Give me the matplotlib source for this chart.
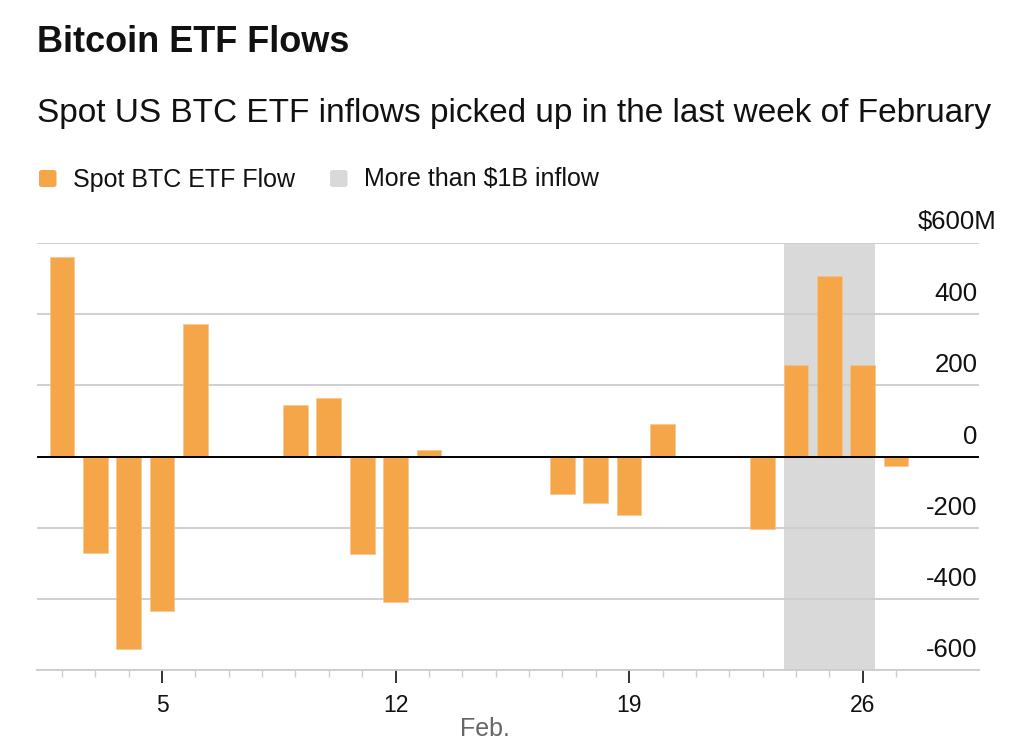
import matplotlib
matplotlib.use("Agg")
import matplotlib.pyplot as plt
from matplotlib.patches import FancyBboxPatch

plt.rcParams['font.family'] = ['Liberation Sans', 'DejaVu Sans']

# daily spot BTC ETF net flows, $M (Feb)
days = [2, 3, 4, 5, 6, 9, 10, 11, 12, 13, 17, 18, 19, 20, 23, 24, 25, 26, 27]
flows = [561, -270, -542, -433, 372, 146, 165, -275, -410, 17,
         -104, -132, -164, 90, -203, 258, 507, 256, -27]
highlight_days = [24, 25, 26]
yticks = [-600, -400, -200, 0, 200, 400, 600]
xticks = [5, 12, 19, 26]
legend_labels = ['Spot BTC ETF Flow', 'More than $1B inflow']

orange = '#F4A649'
shade = '#D9D9D9'
text_c = '#111111'
bar_w = 0.74
W, H = 1024, 751

fig = plt.figure(figsize=(10.24, 7.51), dpi=100)
ax = fig.add_axes([37 / W, 1 - 670 / H, (978.7 - 37) / W, (670 - 243) / H])

ax.axvspan(min(highlight_days) - bar_w / 2, max(highlight_days) + bar_w / 2,
           color=shade, zorder=0, lw=0)
for v in yticks:
    ax.axhline(v, color='#CCCCCC', lw=1.3, zorder=1)
ax.bar(days, flows, width=bar_w, color=orange, zorder=2, edgecolor='#F7C58A', linewidth=0.4)
ax.axhline(0, color='black', lw=1.4, zorder=3)

ax.set_xlim(1.255, 29.475)
ax.set_ylim(-600, 600)
for s in ['top', 'right', 'left']:
    ax.spines[s].set_visible(False)
ax.spines['bottom'].set_color('#CCCCCC')
ax.spines['bottom'].set_linewidth(1.3)
ax.set_yticks([])

ax.set_xticks(xticks)
ax.set_xticklabels([str(t) for t in xticks], fontsize=16.5, color=text_c)
ax.set_xticks(range(2, 28), minor=True)
ax.tick_params(axis='x', which='major', length=9, width=1.3, color='#222222', pad=8)
ax.tick_params(axis='x', which='minor', length=5, width=1, color='#CCCCCC')

# y labels sit above their gridlines at the right edge
for v in yticks:
    if v == yticks[-1]:
        ax.annotate('$' + str(v) + 'M', xy=(1, v), xycoords=('axes fraction', 'data'),
                    xytext=(18, 14), textcoords='offset pixels', ha='right', va='baseline',
                    fontsize=18.5, color=text_c)
    else:
        ax.annotate(str(v), xy=(1, v), xycoords=('axes fraction', 'data'),
                    xytext=(-1, 13), textcoords='offset pixels', ha='right', va='baseline',
                    fontsize=18.5, color=text_c)

fig.text(485 / W, 1 - 736 / H, 'Feb.', fontsize=18, color='#666666', ha='center', va='baseline')

fig.text(37 / W, 1 - 52 / H, 'Bitcoin ETF Flows', fontsize=26, fontweight='bold',
         color=text_c, va='baseline')
fig.text(37 / W, 1 - 122 / H, 'Spot US BTC ETF inflows picked up in the last week of February',
         fontsize=24, color=text_c, va='baseline')

# legend drawn by hand: rounded swatches + labels
for x0, col, lab in zip([39, 330], [orange, shade], legend_labels):
    fig.patches.append(FancyBboxPatch((x0 / W, 1 - 187 / H), 17.5 / W, 17 / H,
                                      boxstyle='round,pad=0,rounding_size=0.003',
                                      transform=fig.transFigure, facecolor=col, lw=0))
    fig.text((x0 + 34) / W, 1 - 186.5 / H, lab, fontsize=18, color=text_c, va='baseline')

fig.savefig('out.png', dpi=100)
